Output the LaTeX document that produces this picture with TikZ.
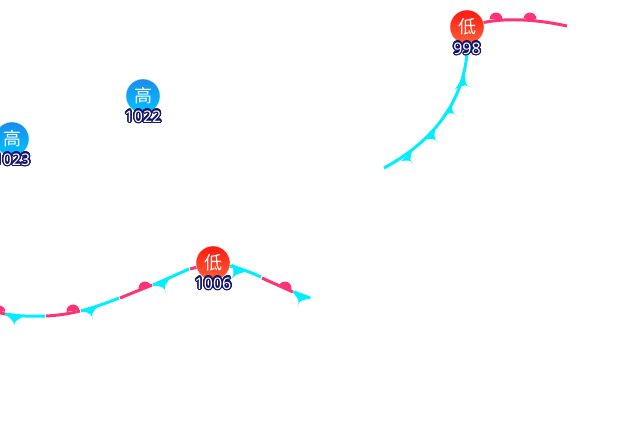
\documentclass[tikz,border=0pt]{standalone}
\usepackage{fontspec}
\usepackage{contour}
\usetikzlibrary{backgrounds,calc}
\setmainfont{Noto Sans}
\newfontfamily\cjk{Noto Sans CJK SC}
\contourlength{1.3pt}
\contournumber{24}
\definecolor{coldcolor}{RGB}{0,238,255}
\definecolor{warmcolor}{RGB}{255,51,119}
\definecolor{labelcolor}{RGB}{20,20,110}
\definecolor{lowtop}{RGB}{255,25,15}
\definecolor{lowbottom}{RGB}{255,95,55}
\definecolor{hightop}{RGB}{25,140,235}
\definecolor{highbottom}{RGB}{0,195,255}
\tikzset{
  center/.style={circle,minimum size=34pt,inner sep=0pt,text=white,font=\cjk\fontsize{18}{18}\selectfont,draw=black!12,line width=.4pt},
  lowcenter/.style={center,top color=lowtop,bottom color=lowbottom},
  highcenter/.style={center,top color=hightop,bottom color=highbottom},
  pressure/.style={inner sep=0pt,font=\fontsize{16}{16}\selectfont},
  coldline/.style={draw=coldcolor,line width=3pt},
  warmline/.style={draw=warmcolor,line width=3pt},
}
\newcommand{\plabel}[1]{\contour{labelcolor}{\textcolor{white}{#1}}}
\begin{document}
\begin{tikzpicture}[x=1pt,y=-1pt]
\useasboundingbox (0,0) rectangle (640,440);

\node[highcenter] (highA) at (143,96) {高};
\node[highcenter] (highB) at (12,139) {高};
\node[lowcenter] (lowA) at (467,27) {低};
\node[lowcenter] (lowB) at (213,263) {低};
\node[pressure] (pressA) at (143,117) {\plabel{1022}};
\node[pressure] (pressB) at (12,160) {\plabel{1023}};
\node[pressure] (pressC) at (467,49) {\plabel{998}};
\node[pressure] (pressD) at (213,284) {\plabel{1006}};

\coordinate (warmA) at (567,26);
\coordinate (coldA) at (384,168);
\coordinate (f0) at (-5,311);
\coordinate (f1) at (5,314);
\coordinate (f2) at (45,316);
\coordinate (f3) at (46,316);
\coordinate (f4) at (80,311);
\coordinate (f5) at (81,311);
\coordinate (f6) at (119,298);
\coordinate (f7) at (120,298);
\coordinate (f8) at (152,285);
\coordinate (f9) at (153,285);
\coordinate (f10) at (189,269);
\coordinate (f11) at (190,269);
\coordinate (f12) at (261,277);
\coordinate (f13) at (262,278);
\coordinate (f14) at (293,292);
\coordinate (f15) at (294,292);
\coordinate (f16) at (310,298);

\begin{scope}[on background layer]
% fronts
\draw[warmline] (lowA.center) .. controls (495,17) and (530,18) .. (warmA);
\draw[coldline] (lowA.center) .. controls (472,85) and (445,135) .. (coldA);
\draw[warmline] (f0) to[bend right=5] (f1);
\draw[coldline] (f1) to[bend right=5] (f2);
\draw[warmline] (f3) to[bend right=5] (f4);
\draw[coldline] (f5) to[bend right=3] (f6);
\draw[warmline] (f7) -- (f8);
\draw[coldline] (f9) -- (f10);
\draw[warmline] (f11) -- (lowB.center);
\draw[coldline] (lowB.center) to[bend left=8] (f12);
\draw[warmline] (f13) -- (f14);
\draw[coldline] (f15) -- (f16);

% warm bumps
\foreach \x/\y/\a in {496/19/0,530/19/-4,-1/312/5,73/311/8,145/288/22,285/288/-25}
  \fill[warmcolor,rotate around={\a:(\x,\y)}] (\x-6.5,\y) arc[start angle=180,end angle=360,radius=6.5] -- cycle;

% cold teeth
\foreach \ax/\ay/\bx/\by/\tx/\ty in {
  401/161/412/151/413/164,
  426/139/435/129/438/143,
  443/115/452/103/457/116,
  455/89/465/75/471/87,
  5/314/24/316/14/328,
  80/310/99/305/93/320,
  152/285/171/277/166/293,
  232/264/248/271/229/282,
  292/291/312/298/297/307}
  \fill[coldcolor] (\ax,\ay) .. controls ($($(\ax,\ay)!.5!(\bx,\by)$)!.5!(\tx,\ty)$) .. (\tx,\ty)
    .. controls ($($(\ax,\ay)!.5!(\bx,\by)$)!.5!(\tx,\ty)$) .. (\bx,\by) -- cycle;
\end{scope}
\end{tikzpicture}
\end{document}
